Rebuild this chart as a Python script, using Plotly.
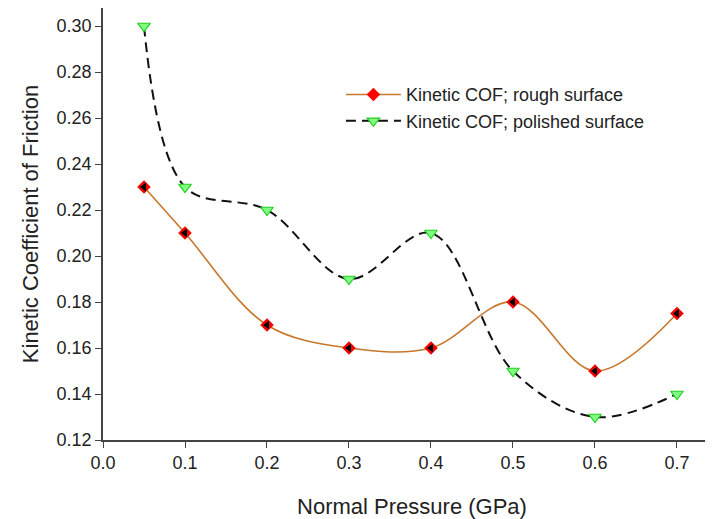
import plotly.graph_objects as go

pressure = [0.05, 0.1, 0.2, 0.3, 0.4, 0.5, 0.6, 0.7]
cof_rough = [0.23, 0.21, 0.17, 0.16, 0.16, 0.18, 0.15, 0.175]
cof_polished = [0.30, 0.23, 0.22, 0.19, 0.21, 0.15, 0.13, 0.14]
x_ticks = [0.0, 0.1, 0.2, 0.3, 0.4, 0.5, 0.6, 0.7]
y_ticks = [0.12, 0.14, 0.16, 0.18, 0.20, 0.22, 0.24, 0.26, 0.28, 0.30]

FONT = "Liberation Sans, Arial, sans-serif"

fig = go.Figure()
fig.add_trace(go.Scatter(
    x=pressure, y=cof_rough, mode="lines+markers",
    name="Kinetic COF; rough surface",
    line=dict(color="#c8772a", width=1.6, shape="spline", smoothing=1),
    marker=dict(symbol="diamond", size=10.5, color="#ff0000", line=dict(width=0)),
))
fig.add_trace(go.Scatter(
    x=pressure, y=cof_rough, mode="markers", showlegend=False, hoverinfo="skip",
    marker=dict(symbol="triangle-left", size=8, color="#000000", line=dict(width=0)),
))
fig.add_trace(go.Scatter(
    x=pressure, y=cof_polished, mode="lines+markers",
    name="Kinetic COF; polished surface",
    line=dict(color="#111111", width=2, dash="10px,6px", shape="spline", smoothing=1),
    marker=dict(symbol="triangle-down", size=11, color="#80ff80",
                line=dict(width=1.2, color="#22cc22")),
))

fig.update_layout(
    width=713, height=519,
    margin=dict(l=95, r=0, t=0, b=87),
    paper_bgcolor="white", plot_bgcolor="white",
    font=dict(family=FONT, size=18, color="#222222"),
    showlegend=True,
    legend=dict(x=0.385, y=0.842, xanchor="left", yanchor="top",
                bgcolor="rgba(0,0,0,0)", font=dict(size=18, color="#222222"),
                tracegroupgap=0, itemwidth=55),
)
fig.update_xaxes(
    range=[0, 0.7537], tickvals=x_ticks, ticktext=[f"{v:.1f}" for v in x_ticks],
    showgrid=False, zeroline=False, showline=True, linecolor="#444444", linewidth=1.5,
    ticks="outside", ticklen=6, tickcolor="#444444", tickwidth=1.3,
    title=dict(text="Normal Pressure (GPa)", font=dict(size=22, color="#222222"), standoff=26),
    automargin=False,
)
fig.update_yaxes(
    range=[0.12, 0.30783], tickvals=y_ticks, ticktext=[f"{v:.2f}" for v in y_ticks],
    showgrid=False, zeroline=False, showline=True, linecolor="#444444", linewidth=1.5,
    ticks="outside", ticklen=6, tickcolor="#444444", tickwidth=1.3,
    title=dict(text="Kinetic Coefficient of Friction", font=dict(size=22, color="#222222"), standoff=12),
    automargin=False,
)

fig.write_html("out.html")
